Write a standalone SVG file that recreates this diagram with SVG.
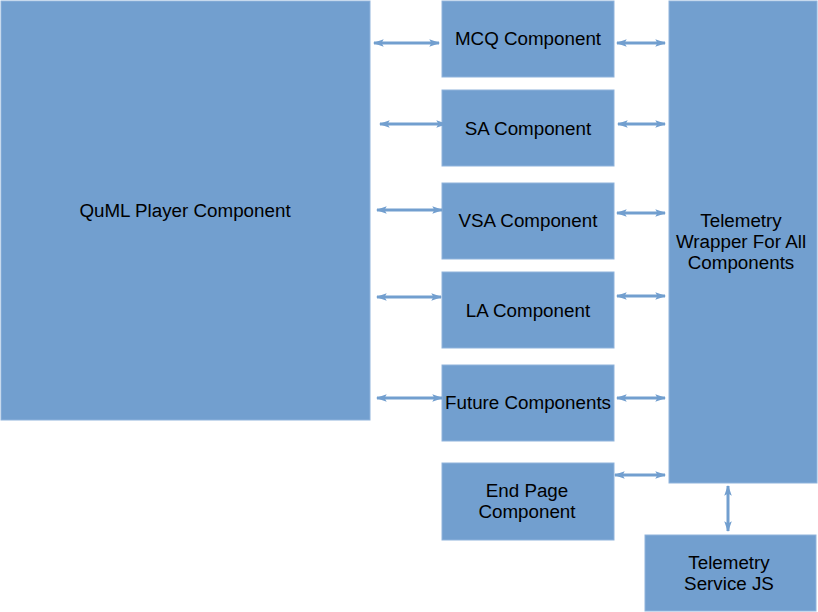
<svg xmlns="http://www.w3.org/2000/svg" width="818" height="612" viewBox="0 0 818 612">
<style>
.b{fill:#729fcf;stroke:#8fb3dc;stroke-width:1}
.t{font-family:"Liberation Sans",Arial,sans-serif;font-size:18.8px;fill:#000;text-anchor:middle}
.c{stroke:#729fcf;stroke-width:3;fill:none;marker-start:url(#a);marker-end:url(#a)}
</style>
<defs>
<marker id="a" viewBox="0 0 10 10" refX="9" refY="5" markerWidth="5" markerHeight="3.6" orient="auto-start-reverse" markerUnits="strokeWidth">
<path d="M0,1.5 L10,5 L0,8.5 L2,5 Z" fill="#729fcf"/>
</marker>
</defs>
<rect width="818" height="612" fill="#fff"/>
<g id="quml"><rect class="b" x="1" y="1" width="369" height="419"/><text class="t" x="185" y="217">QuML Player Component</text></g>
<g id="mcq"><rect class="b" x="442" y="1" width="172" height="76"/><text class="t" x="528" y="45">MCQ Component</text></g>
<g id="sa"><rect class="b" x="442" y="90" width="172" height="76"/><text class="t" x="528" y="135">SA Component</text></g>
<g id="vsa"><rect class="b" x="442" y="183" width="172" height="76"/><text class="t" x="528" y="227">VSA Component</text></g>
<g id="la"><rect class="b" x="442" y="272" width="172" height="76"/><text class="t" x="528" y="317">LA Component</text></g>
<g id="future"><rect class="b" x="442" y="365" width="172" height="76"/><text class="t" x="528" y="409">Future Components</text></g>
<g id="endpage"><rect class="b" x="442" y="463" width="172" height="77"/><text class="t" x="527" y="497">End Page</text><text class="t" x="527" y="518">Component</text></g>
<g id="wrapper"><rect class="b" x="669" y="1" width="148" height="482"/><text class="t" x="741" y="227">Telemetry</text><text class="t" x="741" y="248">Wrapper For All</text><text class="t" x="741" y="269">Components</text></g>
<g id="service"><rect class="b" x="645" y="535" width="171" height="76"/><text class="t" x="729" y="569">Telemetry</text><text class="t" x="729" y="590">Service JS</text></g>
<g id="connectors">
<line class="c" x1="374" y1="43" x2="439" y2="43"/>
<line class="c" x1="380" y1="124" x2="446" y2="124"/>
<line class="c" x1="377" y1="210" x2="442" y2="210"/>
<line class="c" x1="377" y1="297" x2="441" y2="297"/>
<line class="c" x1="377" y1="398" x2="442" y2="398"/>
<line class="c" x1="617" y1="43" x2="665" y2="43"/>
<line class="c" x1="618" y1="124" x2="665" y2="124"/>
<line class="c" x1="617" y1="213" x2="665" y2="213"/>
<line class="c" x1="617" y1="296" x2="665" y2="296"/>
<line class="c" x1="617" y1="398" x2="665" y2="398"/>
<line class="c" x1="615" y1="475" x2="665" y2="475"/>
<line class="c" x1="728" y1="486" x2="728" y2="531"/>
</g>
</svg>
